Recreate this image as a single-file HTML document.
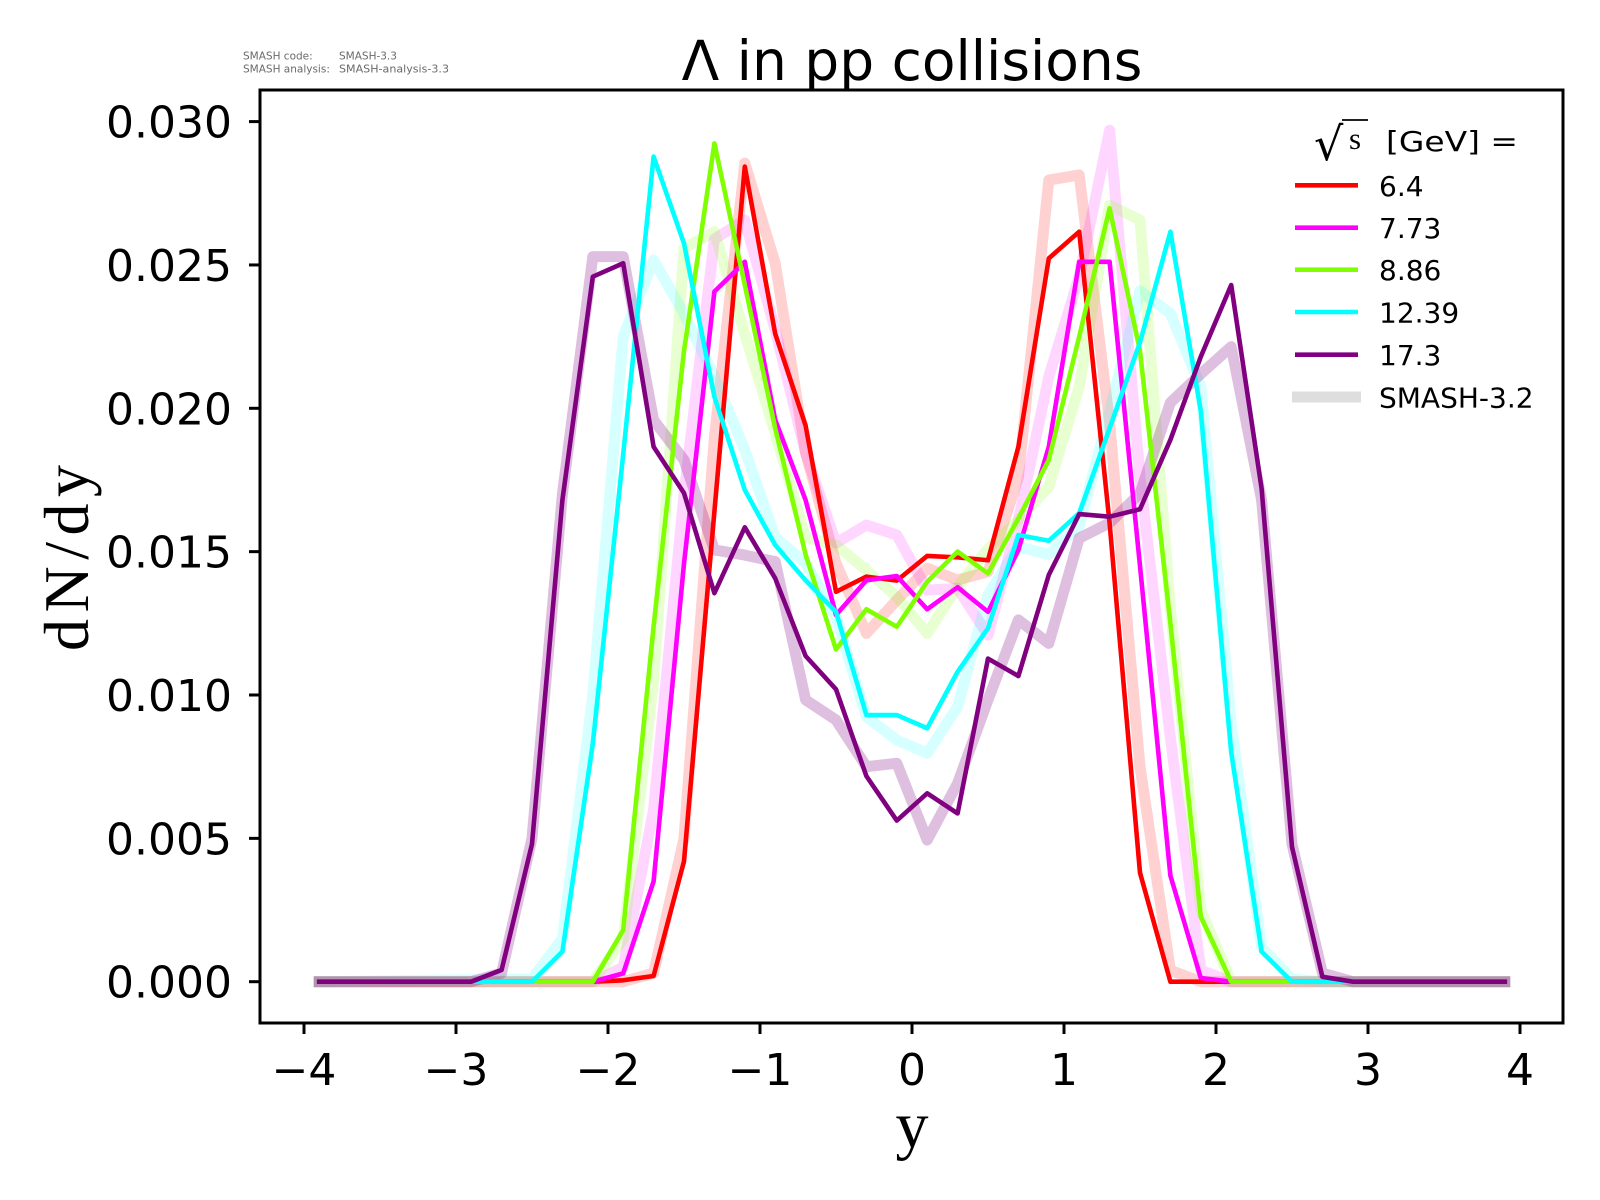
<!DOCTYPE html>
<html>
<head>
<meta charset="utf-8">
<style>
  html, body { margin: 0; padding: 0; background: #ffffff; }
  svg { display: block; }
  .tick { font-family: "DejaVu Sans", "Liberation Sans", sans-serif; font-size: 44px; fill: #000; }
  .leg { font-family: "DejaVu Sans", "Liberation Sans", sans-serif; font-size: 28px; fill: #000; }
  .info { font-family: "DejaVu Sans", "Liberation Sans", sans-serif; font-size: 10.5px; fill: #6a6a6a; }
  .s, .f { fill: none; vector-effect: non-scaling-stroke; stroke-linejoin: round; stroke-linecap: square; }
  .s { stroke-width: 4.6; }
  .f { stroke-width: 11; }
</style>
</head>
<body>
<svg width="1600" height="1200" viewBox="0 0 1600 1200" xmlns="http://www.w3.org/2000/svg">
  <rect x="0" y="0" width="1600" height="1200" fill="#ffffff"/>

  <!-- info text -->
  <text class="info" x="243" y="59.5">SMASH code:</text>
  <text class="info" x="339" y="59.5">SMASH-3.3</text>
  <text class="info" x="243" y="72.5">SMASH analysis:</text>
  <text class="info" x="339" y="72.5" textLength="110" lengthAdjust="spacingAndGlyphs">SMASH-analysis-3.3</text>

  <!-- title -->
  <text x="912" y="80" text-anchor="middle" font-family="DejaVu Sans, Liberation Sans, sans-serif" font-size="55" fill="#000">Λ in pp collisions</text>

  <!-- data -->
  <g transform="matrix(152 0 0 -28.67 912 981.7)">
    <!-- SMASH-3.2 faded -->
    <polyline class="f" stroke="#ff0000" stroke-opacity="0.18" points="-3.9,0 -1.9,0 -1.7,0.3 -1.5,5 -1.3,19 -1.1,28.55 -0.9,25.06 -0.7,18.44 -0.5,14.6 -0.3,12.15 -0.1,13.31 0.1,14.42 0.3,14.01 0.5,14.3 0.7,17.6 0.9,27.96 1.1,28.14 1.3,19.5 1.5,7.5 1.7,0.4 1.9,0 3.9,0"/>
    <polyline class="f" stroke="#ff00ff" stroke-opacity="0.16" points="-3.9,0 -2.1,0 -1.9,0.5 -1.7,6 -1.5,17 -1.3,25.9 -1.1,26.57 -0.9,22.73 -0.7,18.44 -0.5,15.3 -0.3,15.93 -0.1,15.58 0.1,13.66 0.3,13.72 0.5,12.09 0.7,16.1 0.9,21.1 1.1,24.6 1.3,29.7 1.5,17.6 1.7,8.5 1.9,0.4 2.1,0 3.9,0"/>
    <polyline class="f" stroke="#7fff00" stroke-opacity="0.18" points="-3.9,0 -2.1,0 -1.9,1.5 -1.7,10.5 -1.5,25.58 -1.3,26.16 -1.1,22.6 -0.9,19.13 -0.7,15.5 -0.5,15.23 -0.3,14.36 -0.1,13.43 0.1,12.15 0.3,13.78 0.5,15.1 0.7,16.1 0.9,17.27 1.1,20.75 1.3,27.09 1.5,26.57 1.7,13 1.9,2.5 2.1,0 3.9,0"/>
    <polyline class="f" stroke="#00ffff" stroke-opacity="0.16" points="-3.9,0 -2.5,0.1 -2.3,1.5 -2.1,10 -1.9,22.5 -1.7,25.17 -1.5,23.3 -1.3,21.1 -1.1,18.55 -0.9,15.5 -0.7,14.6 -0.5,12.73 -0.3,9.24 -0.1,8.43 0.1,7.97 0.3,9.59 0.5,13.5 0.7,15.17 0.9,14.9 1.1,15.9 1.3,19.9 1.5,24.1 1.7,23.31 1.9,20.75 2.1,9 2.3,1.2 2.5,0.1 2.7,0 3.9,0"/>
    <polyline class="f" stroke="#800080" stroke-opacity="0.25" points="-3.9,0 -2.9,0 -2.7,0.3 -2.5,5 -2.3,17 -2.1,25.29 -1.9,25.29 -1.7,19.59 -1.5,18.2 -1.3,15.06 -1.1,14.88 -0.9,14.65 -0.7,9.83 -0.5,9.13 -0.3,7.5 -0.1,7.62 0.1,4.94 0.3,6.92 0.5,9.83 0.7,12.62 0.9,11.8 1.1,15.47 1.3,16.0 1.5,17.03 1.7,20.2 1.9,21.2 2.1,22.15 2.3,16.8 2.5,4.8 2.7,0.3 2.9,0 3.9,0"/>

    <!-- current solid -->
    <polyline class="s" stroke="#ff0000" points="-3.9,0 -2.1,0 -1.9,0.05 -1.7,0.2 -1.5,4.2 -1.3,16.4 -1.1,28.43 -0.9,22.6 -0.7,19.4 -0.5,13.6 -0.3,14.13 -0.1,13.99 0.1,14.85 0.3,14.8 0.5,14.7 0.7,18.66 0.9,25.23 1.1,26.16 1.3,16.0 1.5,3.8 1.7,0 3.9,0"/>
    <polyline class="s" stroke="#ff00ff" points="-3.9,0 -2.1,0 -1.9,0.29 -1.7,3.5 -1.5,14.58 -1.3,24.07 -1.1,25.11 -0.9,19.6 -0.7,16.8 -0.5,12.79 -0.3,14.0 -0.1,14.15 0.1,12.99 0.3,13.76 0.5,12.9 0.7,15.06 0.9,18.66 1.1,25.11 1.3,25.11 1.5,14.5 1.7,3.7 1.9,0.13 2.1,0 3.9,0"/>
    <polyline class="s" stroke="#7fff00" points="-3.9,0 -2.1,0 -1.9,1.8 -1.7,12.4 -1.5,22.0 -1.3,29.24 -1.1,24.3 -0.9,19.3 -0.7,14.9 -0.5,11.59 -0.3,12.99 -0.1,12.38 0.1,13.95 0.3,15.0 0.5,14.24 0.7,16.16 0.9,18.2 1.1,22.5 1.3,26.98 1.5,22.0 1.7,12.5 1.9,2.27 2.1,0 3.9,0"/>
    <polyline class="s" stroke="#00ffff" points="-3.9,0 -2.5,0 -2.3,1.05 -2.1,8.3 -1.9,18.4 -1.7,28.78 -1.5,25.75 -1.3,20.4 -1.1,17.15 -0.9,15.23 -0.7,14.0 -0.5,12.9 -0.3,9.3 -0.1,9.3 0.1,8.84 0.3,10.81 0.5,12.33 0.7,15.58 0.9,15.38 1.1,16.34 1.3,19.3 1.5,22.3 1.7,26.16 1.9,19.9 2.1,8.0 2.3,1.05 2.5,0 3.9,0"/>
    <polyline class="s" stroke="#800080" points="-3.9,0 -2.9,0 -2.7,0.41 -2.5,4.8 -2.3,16.8 -2.1,24.59 -1.9,25.06 -1.7,18.66 -1.5,17.04 -1.3,13.55 -1.1,15.85 -0.9,14.07 -0.7,11.36 -0.5,10.2 -0.3,7.17 -0.1,5.62 0.1,6.57 0.3,5.87 0.5,11.27 0.7,10.66 0.9,14.19 1.1,16.31 1.3,16.22 1.5,16.48 1.7,18.9 1.9,21.8 2.1,24.3 2.3,17.2 2.5,4.7 2.7,0.17 2.9,0 3.9,0"/>
  </g>

  <!-- axes frame -->
  <rect x="260" y="90" width="1303" height="933" fill="none" stroke="#000" stroke-width="3"/>

  <!-- y ticks -->
  <g stroke="#000" stroke-width="3">
    <line x1="249" y1="981.7" x2="260" y2="981.7"/>
    <line x1="249" y1="838.35" x2="260" y2="838.35"/>
    <line x1="249" y1="695.0" x2="260" y2="695.0"/>
    <line x1="249" y1="551.65" x2="260" y2="551.65"/>
    <line x1="249" y1="408.3" x2="260" y2="408.3"/>
    <line x1="249" y1="264.95" x2="260" y2="264.95"/>
    <line x1="249" y1="121.6" x2="260" y2="121.6"/>
  </g>
  <g class="tick" text-anchor="end">
    <text x="232" y="997.7">0.000</text>
    <text x="232" y="854.35">0.005</text>
    <text x="232" y="711.0">0.010</text>
    <text x="232" y="567.65">0.015</text>
    <text x="232" y="424.3">0.020</text>
    <text x="232" y="280.95">0.025</text>
    <text x="232" y="137.6">0.030</text>
  </g>

  <!-- x ticks -->
  <g stroke="#000" stroke-width="3">
    <line x1="304" y1="1023" x2="304" y2="1034"/>
    <line x1="456" y1="1023" x2="456" y2="1034"/>
    <line x1="608" y1="1023" x2="608" y2="1034"/>
    <line x1="760" y1="1023" x2="760" y2="1034"/>
    <line x1="912" y1="1023" x2="912" y2="1034"/>
    <line x1="1064" y1="1023" x2="1064" y2="1034"/>
    <line x1="1216" y1="1023" x2="1216" y2="1034"/>
    <line x1="1368" y1="1023" x2="1368" y2="1034"/>
    <line x1="1520" y1="1023" x2="1520" y2="1034"/>
  </g>
  <g class="tick" text-anchor="middle">
    <text x="304" y="1085">−4</text>
    <text x="456" y="1085">−3</text>
    <text x="608" y="1085">−2</text>
    <text x="760" y="1085">−1</text>
    <text x="912" y="1085">0</text>
    <text x="1064" y="1085">1</text>
    <text x="1216" y="1085">2</text>
    <text x="1368" y="1085">3</text>
    <text x="1520" y="1085">4</text>
  </g>

  <!-- axis labels -->
  <text x="912" y="1147" text-anchor="middle" font-family="Liberation Serif, serif" font-size="66" fill="#000">y</text>
  <text transform="translate(88,558) rotate(-90)" text-anchor="middle" font-family="Liberation Serif, serif" font-size="64" fill="#000" textLength="186" lengthAdjust="spacing">dN/dy</text>

  <!-- legend -->
  <text x="1314" y="160" font-family="DejaVu Serif, serif" font-size="46" fill="#000">√</text>
  <line x1="1342" y1="120" x2="1368" y2="120" stroke="#000" stroke-width="1.8"/>
  <text x="1349" y="149" font-family="Liberation Serif, serif" font-size="31" fill="#000">s</text>
  <text class="leg" x="1386" y="151" font-size="31" textLength="132" lengthAdjust="spacingAndGlyphs">[GeV] =</text>

  <line x1="1295" y1="185.3" x2="1358" y2="185.3" stroke="#ff0000" stroke-width="4.6"/>
  <text class="leg" x="1379" y="196">6.4</text>
  <line x1="1295" y1="227.7" x2="1358" y2="227.7" stroke="#ff00ff" stroke-width="4.6"/>
  <text class="leg" x="1379" y="238.2">7.73</text>
  <line x1="1295" y1="269.7" x2="1358" y2="269.7" stroke="#7fff00" stroke-width="4.6"/>
  <text class="leg" x="1379" y="280.2">8.86</text>
  <line x1="1295" y1="312" x2="1358" y2="312" stroke="#00ffff" stroke-width="4.6"/>
  <text class="leg" x="1379" y="322.5">12.39</text>
  <line x1="1295" y1="354.7" x2="1358" y2="354.7" stroke="#800080" stroke-width="4.6"/>
  <text class="leg" x="1379" y="365.2">17.3</text>
  <line x1="1292" y1="397" x2="1361" y2="397" stroke="#dedede" stroke-width="11"/>
  <text class="leg" x="1379" y="407.5">SMASH-3.2</text>
</svg>
</body>
</html>
